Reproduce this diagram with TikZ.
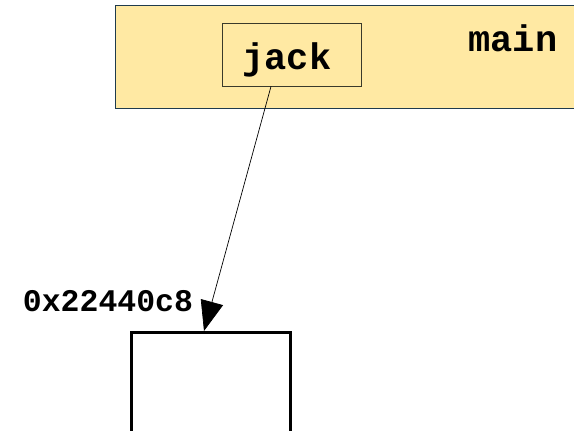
\documentclass[tikz,border=0pt]{standalone}
\usepackage{fontspec}
\setmonofont{Liberation Mono}
\usetikzlibrary{arrows.meta,calc}
\definecolor{frameyellow}{HTML}{FFE9A3}
\definecolor{frameedge}{HTML}{1F3B4D}
\definecolor{varedge}{HTML}{3A3A2A}
\tikzset{
  frame/.style={draw=frameedge, fill=frameyellow, line width=1pt},
  varbox/.style={draw=varedge, fill=frameyellow, line width=0.8pt},
  heapbox/.style={draw=black, fill=white, line width=3pt},
  code/.style={font=\ttfamily\bfseries\fontsize{37}{37}\selectfont, inner sep=0pt},
  smallcode/.style={font=\ttfamily\bfseries\fontsize{31.5}{31.5}\selectfont, inner sep=0pt},
  pointer/.style={draw=black, line width=0.7pt, -{Triangle[length=30pt,width=23pt]}}
}
\begin{document}
\begin{tikzpicture}[x=1pt,y=-1pt]
  \useasboundingbox (0,0) rectangle (574,431);
  % stack frame of main
  \path[frame] (115,5) rectangle (590,108);
  \node[code, anchor=base] (main) at (513,52) {main};
  % local variable jack
  \node[varbox, minimum width=139pt, minimum height=63pt, inner sep=0pt] (jack) at (291.5,54.5) {};
  \node[code, anchor=base] (jacktext) at (287,69.5) {jack};
  % heap object
  \node[heapbox, minimum width=159pt, minimum height=120pt, inner sep=0pt, anchor=north west] (obj) at (130,331) {};
  \node[smallcode, anchor=base] (addr) at (108,311) {0x22440c8};
  % pointer from jack to the object
  \draw[pointer] ($(jack.south)+(-20.5,0)$) -- ($(obj.north west)+(74,0)$);
\end{tikzpicture}
\end{document}
